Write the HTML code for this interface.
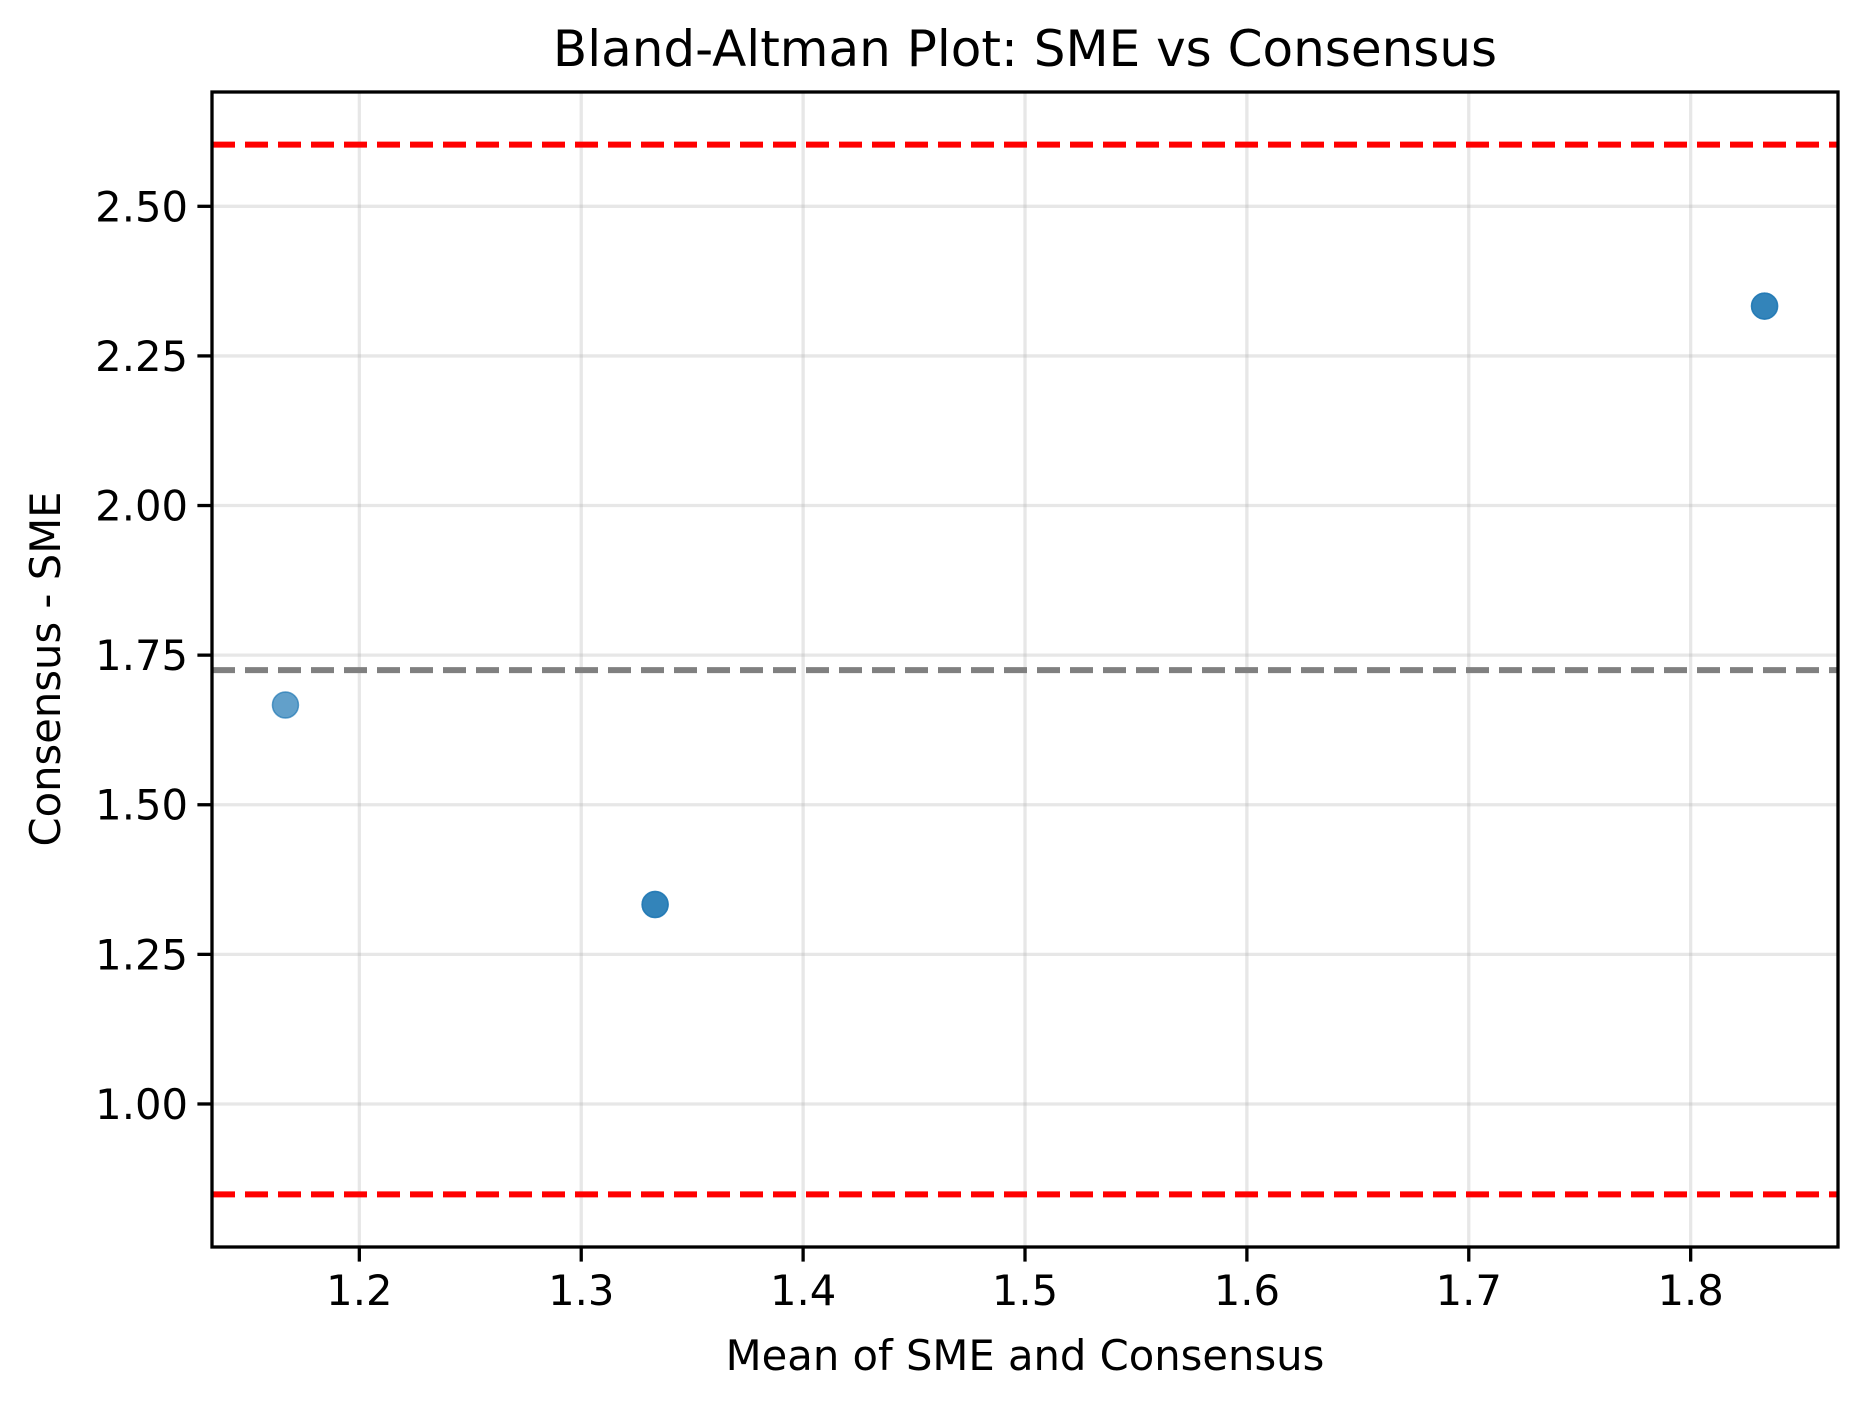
<!DOCTYPE html>
<html><head><meta charset="utf-8"><style>
html,body{margin:0;padding:0;background:#fff;}
svg{display:block;font-family:"DejaVu Sans","Liberation Sans",sans-serif;}
</style></head><body>
<svg id="chart" width="1868" height="1407" viewBox="0 0 1868 1407">
<rect x="0" y="0" width="1868" height="1407" fill="#fff"/>
<g id="grid"></g>
<g id="lines"></g>
<g id="points"></g>
<rect x="212" y="92" width="1626" height="1155" fill="none" stroke="#000" stroke-width="3.3"/>
<g id="xticks"></g>
<g id="yticks"></g>
<text x="1025" y="66" text-anchor="middle" font-size="50">Bland-Altman Plot: SME vs Consensus</text>
<text x="1025" y="1370" text-anchor="middle" font-size="41.7">Mean of SME and Consensus</text>
<text x="60" y="669" text-anchor="middle" font-size="41.7" transform="rotate(-90 60 669)">Consensus - SME</text>
</svg>
<script>
const xValues = [1.1667, 1.3333, 1.3333, 1.8333, 1.8333];
const yValues = [1.6667, 1.3333, 1.3333, 2.3333, 2.3333];
const meanDiff = 1.725;
const upperLoA = 2.603;
const lowerLoA = 0.849;
const xTicks = [1.2, 1.3, 1.4, 1.5, 1.6, 1.7, 1.8];
const xTickLabels = ["1.2", "1.3", "1.4", "1.5", "1.6", "1.7", "1.8"];
const yTicks = [1.0, 1.25, 1.5, 1.75, 2.0, 2.25, 2.5];
const yTickLabels = ["1.00", "1.25", "1.50", "1.75", "2.00", "2.25", "2.50"];

const L = 212, R = 1838, T = 92, B = 1247;
const xMin = 1.1336, xMax = 1.8664, yMin = 0.761, yMax = 2.691;
const NS = "http://www.w3.org/2000/svg";
function sx(v){ return L + (v - xMin) / (xMax - xMin) * (R - L); }
function sy(v){ return B - (v - yMin) / (yMax - yMin) * (B - T); }
function mk(tag, attrs, parent){
  const e = document.createElementNS(NS, tag);
  for (const k in attrs) e.setAttribute(k, attrs[k]);
  parent.appendChild(e);
  return e;
}
const grid = document.getElementById('grid');
const xt = document.getElementById('xticks');
const yt = document.getElementById('yticks');
xTicks.forEach((v, i) => {
  const x = sx(v);
  const g = mk('line', {x1:x, x2:x, y1:T, y2:B, stroke:'#b0b0b0', 'stroke-opacity':0.3, 'stroke-width':3.3}, grid);
  
  
  const t = mk('line', {x1:x, x2:x, y1:B, y2:B+14.6, stroke:'#000', 'stroke-width':3.3}, xt);
  
  
  const lb = mk('text', {x:x, y:B+58, 'text-anchor':'middle', 'font-size':41.7}, xt);
  lb.textContent = xTickLabels[i];
  
  
});
yTicks.forEach((v, i) => {
  const y = sy(v);
  const g = mk('line', {x1:L, x2:R, y1:y, y2:y, stroke:'#b0b0b0', 'stroke-opacity':0.3, 'stroke-width':3.3}, grid);
  
  
  const t = mk('line', {x1:L-14.6, x2:L, y1:y, y2:y, stroke:'#000', 'stroke-width':3.3}, yt);
  
  
  const lb = mk('text', {x:L-24, y:y+15, 'text-anchor':'end', 'font-size':41.7}, yt);
  lb.textContent = yTickLabels[i];
  
  
});
const lines = document.getElementById('lines');
const ml = mk('line', {x1:L, x2:R, y1:sy(meanDiff), y2:sy(meanDiff), stroke:'#808080', 'stroke-width':6, 'stroke-dasharray':'23 10'}, lines);


const ul = mk('line', {x1:L, x2:R, y1:sy(upperLoA), y2:sy(upperLoA), stroke:'#ff0000', 'stroke-width':6, 'stroke-dasharray':'23 10'}, lines);


const ll = mk('line', {x1:L, x2:R, y1:sy(lowerLoA), y2:sy(lowerLoA), stroke:'#ff0000', 'stroke-width':6, 'stroke-dasharray':'23 10'}, lines);


const pts = document.getElementById('points');
xValues.forEach((v, i) => {
  const c = mk('circle', {cx:sx(v), cy:sy(yValues[i]), r:13, fill:'#1f77b4', 'fill-opacity':0.7, stroke:'#1f77b4', 'stroke-opacity':0.7, 'stroke-width':1.5}, pts);
  
  
});
</script>
</body></html>
